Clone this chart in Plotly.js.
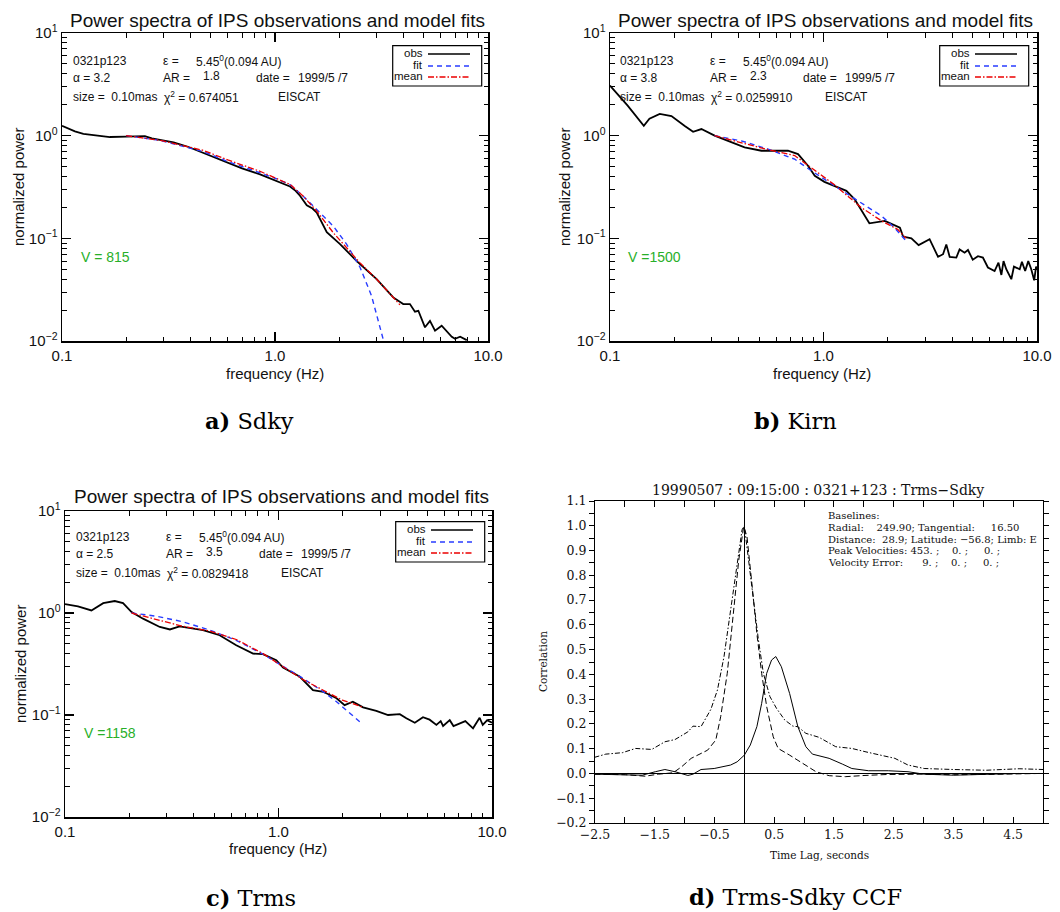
<!DOCTYPE html>
<html>
<head>
<meta charset="utf-8">
<script src="https://cdn.plot.ly/plotly-3.0.1.min.js"></script>
<style>html,body{margin:0;padding:0;background:#fff}#chart{width:1060px;height:912px}</style>
</head>
<body>
<div id="chart"></div>
<script>
// ---------------- DATA ----------------
// Panel a) Sdky
const aObsF = [0.1,0.115,0.126,0.145,0.168,0.2,0.245,0.264,0.29,0.334,0.39,0.445,0.52,0.593,0.7,0.851,1.0,1.176,1.25,1.31,1.41,1.5,1.57,1.75,2.02,2.42,3.0,3.11,3.59,4.0,4.3,4.54,4.71,5.06,5.34,5.64,6.06,6.76,7.0,7.4,7.95];
const aObsP = [1.25,1.1,1.04,1.0,0.97,0.98,0.99,0.94,0.91,0.86,0.78,0.70,0.61,0.55,0.48,0.42,0.37,0.32,0.29,0.26,0.21,0.195,0.178,0.115,0.088,0.060,0.040,0.037,0.0266,0.0229,0.0229,0.0193,0.0197,0.0136,0.0157,0.0126,0.0141,0.011,0.0105,0.011,0.0102];
const aFitF = [0.2,0.288,0.46,0.6,0.85,1.0,1.176,1.35,1.57,1.88,2.17,2.51,2.84,3.22];
const aFitP = [1.0,0.90,0.70,0.56,0.435,0.385,0.334,0.26,0.191,0.131,0.0875,0.052,0.0275,0.0104];
const aMeanF = [0.2,0.29,0.46,0.6,0.85,1.0,1.176,1.35,1.57,1.88,2.17,2.5,3.0,3.59,3.86];
const aMeanP = [1.0,0.9,0.72,0.58,0.45,0.39,0.335,0.26,0.184,0.113,0.081,0.058,0.040,0.0266,0.0225];

// Panel b) Kirn
const bObsF = [0.1,0.121,0.144,0.153,0.171,0.194,0.224,0.245,0.268,0.309,0.427,0.512,0.682,0.76,0.846,0.91,1.01,1.28,1.40,1.64,1.94,2.28,2.36,2.58,2.79,3.14,3.44,3.63,3.76,3.90,4.19,4.34,4.58,4.75,5.0,5.29,5.58,5.89,6.33,6.6,6.81,6.97,7.18,7.58,7.8,8.3,8.5,8.8,9.1,9.4,9.7,9.9,10.0];
const bObsP = [3.08,1.96,1.25,1.46,1.63,1.55,1.24,1.09,1.16,1.0,0.77,0.713,0.713,0.662,0.509,0.406,0.355,0.29,0.24,0.14,0.148,0.127,0.104,0.10,0.086,0.098,0.066,0.070,0.087,0.066,0.065,0.078,0.0725,0.077,0.062,0.067,0.065,0.052,0.048,0.058,0.044,0.060,0.050,0.040,0.053,0.050,0.059,0.048,0.060,0.050,0.039,0.053,0.050];
const bFitF = [0.309,0.412,0.55,0.733,0.877,1.13,1.50,1.87,2.15,2.44];
const bFitP = [1.0,0.89,0.74,0.59,0.455,0.325,0.223,0.165,0.127,0.094];
const bMeanF = [0.309,0.412,0.55,0.733,0.877,1.13,1.50,1.87,2.23,2.44];
const bMeanP = [1.0,0.86,0.73,0.64,0.49,0.33,0.20,0.148,0.122,0.10];

// Panel c) Trms
const cObsF = [0.1,0.115,0.133,0.151,0.171,0.187,0.205,0.232,0.278,0.31,0.344,0.443,0.53,0.634,0.76,0.846,0.977,1.05,1.26,1.45,1.62,1.87,2.04,2.23,2.49,2.87,3.26,3.70,3.97,4.35,4.75,5.1,5.49,5.75,5.9,6.34,6.6,7.1,7.5,8.15,8.75,9.05,9.5,10.0];
const cObsP = [1.22,1.16,1.06,1.25,1.31,1.25,1.02,0.88,0.73,0.69,0.74,0.68,0.605,0.483,0.40,0.395,0.345,0.292,0.237,0.175,0.169,0.146,0.125,0.135,0.119,0.110,0.10,0.102,0.093,0.084,0.095,0.090,0.080,0.087,0.078,0.089,0.078,0.083,0.087,0.074,0.094,0.080,0.089,0.084];
const cFitF = [0.205,0.268,0.357,0.476,0.634,0.846,1.05,1.30,1.62,1.87,2.16,2.45];
const cFitP = [1.0,0.93,0.82,0.68,0.54,0.395,0.30,0.229,0.169,0.135,0.104,0.083];
const cMeanF = [0.205,0.268,0.357,0.476,0.634,0.846,1.05,1.30,1.62,1.99,2.49];
const cMeanP = [1.0,0.86,0.74,0.667,0.55,0.40,0.30,0.223,0.175,0.14,0.119];

// Panel d) Trms-Sdky CCF
const dSolidLag = [-2.51,-1.71,-1.49,-1.33,-1.16,-0.945,-0.86,-0.725,-0.505,-0.34,-0.23,-0.12,0,0.1,0.21,0.29,0.374,0.456,0.527,0.62,0.758,0.896,1.03,1.14,1.42,1.64,1.80,2.08,2.41,2.74,3.01,3.5,4.05,4.6];
const dSolidCor = [-0.003,-0.007,0.007,0.016,0.007,-0.008,-0.003,0.016,0.02,0.03,0.034,0.047,0.074,0.115,0.189,0.283,0.404,0.458,0.472,0.431,0.323,0.189,0.108,0.078,0.061,0.038,0.02,0.011,0.011,0.007,-0.003,-0.007,-0.003,0.0];
const dDashLag = [-2.51,-1.99,-1.66,-1.44,-1.19,-1.05,-0.89,-0.615,-0.478,-0.396,-0.286,-0.176,-0.093,-0.011,0.044,0.126,0.209,0.29,0.374,0.484,0.566,0.758,0.978,1.2,1.42,1.69,2.02,2.41,2.96,3.5,4.05,4.6,4.95];
const dDashCor = [-0.003,-0.005,-0.011,-0.003,0.003,0.027,0.061,0.094,0.135,0.229,0.404,0.66,0.862,0.997,0.957,0.768,0.566,0.404,0.27,0.148,0.101,0.074,0.04,0.007,-0.009,-0.013,-0.008,-0.004,-0.003,-0.005,-0.004,-0.003,0.0];
const dDotLag = [-2.51,-2.32,-2.04,-1.82,-1.55,-1.33,-1.16,-0.945,-0.86,-0.725,-0.56,-0.45,-0.34,-0.23,-0.12,-0.038,0,0.071,0.154,0.236,0.319,0.429,0.538,0.676,0.813,0.896,1.03,1.25,1.53,1.80,2.02,2.30,2.52,2.74,3.01,3.5,4.05,4.6,5.0];
const dDotCor = [0.065,0.078,0.084,0.101,0.097,0.128,0.137,0.168,0.191,0.189,0.259,0.337,0.472,0.66,0.849,0.984,1.0,0.863,0.70,0.539,0.404,0.31,0.263,0.216,0.191,0.189,0.162,0.146,0.108,0.101,0.088,0.074,0.061,0.034,0.02,0.016,0.013,0.019,0.016];

// tick labels
const freqTickVals = [0.1,1,10];
const freqTickText = ['0.1','1.0','10.0'];
const powTickVals = [0.01,0.1,1,10];
const powTickText = ['10<sup>−2</sup>','10<sup>−1</sup>','10<sup>0</sup>','10<sup>1</sup>'];
const freqMinor = [0.2,0.3,0.4,0.5,0.6,0.7,0.8,0.9,2,3,4,5,6,7,8,9];
const powMinor = [0.02,0.03,0.04,0.05,0.06,0.07,0.08,0.09,0.2,0.3,0.4,0.5,0.6,0.7,0.8,0.9,2,3,4,5,6,7,8,9];
const lagTickVals = [-2.5,-1.5,-0.5,0.5,1.5,2.5,3.5,4.5];
const lagTickText = ['−2.5','−1.5','−0.5','0.5','1.5','2.5','3.5','4.5'];

// panel annotations text
const spectraTitle = 'Power spectra of IPS observations and model fits';
const infoA = {alpha:'3.2', ar:'1.8', chi:'0.674051', v:'V = 815'};
const infoB = {alpha:'3.8', ar:'2.3', chi:'0.0259910', v:'V =1500'};
const infoC = {alpha:'2.5', ar:'3.5', chi:'0.0829418', v:'V =1158'};
const ccfTitle = '19990507 : 09:15:00 : 0321+123 : Trms−Sdky';
const ccfInfo = [
  'Baselines:',
  'Radial:\u00a0\u00a0\u00a0 249.90; Tangential:\u00a0\u00a0\u00a0\u00a0 16.50',
  'Distance:\u00a0 28.9; Latitude: −56.8; Limb: E',
  'Peak Velocities: 453. ;\u00a0\u00a0\u00a0 0. ;\u00a0\u00a0\u00a0\u00a0 0. ;',
  'Velocity Error:\u00a0\u00a0\u00a0\u00a0\u00a0 9. ;\u00a0\u00a0\u00a0 0. ;\u00a0\u00a0\u00a0\u00a0 0. ;'
];
const captions = ['<b>a)</b> Sdky','<b>b)</b> Kirn','<b>c)</b> Trms','<b>d)</b> Trms-Sdky CCF'];

// ---------------- LAYOUT HELPERS ----------------
const W = 1060, H = 912;
const X = p => p / W;
const Y = p => 1 - p / H;
const SANS = 'Liberation Sans, Arial, Helvetica, sans-serif';
const SERIF = 'DejaVu Serif, serif';
const BLUE = 'rgb(40,60,255)';
const RED = 'rgb(235,0,0)';
const GREEN = 'rgb(40,175,40)';

function logX(dom, anchor){
  return {domain:dom, anchor:anchor, type:'log', range:[-1,1], tickmode:'array', tickvals:freqTickVals, ticktext:freqTickText,
    ticks:'inside', ticklen:9, tickwidth:1.3, tickcolor:'#000', mirror:'allticks', showline:true, linecolor:'#000', linewidth:1.5,
    showgrid:false, zeroline:false, tickfont:{family:SANS,size:15,color:'#111'},
    minor:{tickmode:'array', tickvals:freqMinor, ticks:'inside', ticklen:4.5, tickwidth:1, tickcolor:'#000', showgrid:false}};
}
function logY(dom, anchor){
  return {domain:dom, anchor:anchor, type:'log', range:[-2,1], tickmode:'array', tickvals:powTickVals, ticktext:powTickText,
    ticks:'inside', ticklen:9, tickwidth:1.3, tickcolor:'#000', mirror:'allticks', showline:true, linecolor:'#000', linewidth:1.5,
    showgrid:false, zeroline:false, tickfont:{family:SANS,size:15,color:'#111'},
    minor:{tickmode:'array', tickvals:powMinor, ticks:'inside', ticklen:4.5, tickwidth:1, tickcolor:'#000', showgrid:false}};
}

const traces = [];
function spectra(xa, ya, obsF, obsP, fitF, fitP, meanF, meanP){
  traces.push({x:obsF, y:obsP, xaxis:xa, yaxis:ya, mode:'lines', line:{color:'#000', width:1.8}, showlegend:false, hoverinfo:'skip'});
  traces.push({x:fitF, y:fitP, xaxis:xa, yaxis:ya, mode:'lines', line:{color:BLUE, width:1.4, dash:'5px,4px'}, showlegend:false, hoverinfo:'skip'});
  traces.push({x:meanF, y:meanP, xaxis:xa, yaxis:ya, mode:'lines', line:{color:RED, width:1.3, dash:'6px,2px,1.5px,2px'}, showlegend:false, hoverinfo:'skip'});
}
spectra('x','y', aObsF,aObsP,aFitF,aFitP,aMeanF,aMeanP);
spectra('x2','y2', bObsF,bObsP,bFitF,bFitP,bMeanF,bMeanP);
spectra('x3','y3', cObsF,cObsP,cFitF,cFitP,cMeanF,cMeanP);
traces.push({x:dSolidLag, y:dSolidCor, xaxis:'x4', yaxis:'y4', mode:'lines', line:{color:'#000', width:1}, showlegend:false, hoverinfo:'skip'});
traces.push({x:dDashLag, y:dDashCor, xaxis:'x4', yaxis:'y4', mode:'lines', line:{color:'#000', width:1, dash:'6px,3px'}, showlegend:false, hoverinfo:'skip'});
traces.push({x:dDotLag, y:dDotCor, xaxis:'x4', yaxis:'y4', mode:'lines', line:{color:'#000', width:1, dash:'5px,2px,1.5px,2px'}, showlegend:false, hoverinfo:'skip'});

const ann = [];
const shapes = [];
function txt(text, x, y, opt){
  opt = opt || {};
  ann.push(Object.assign({text:text, x:X(x), y:Y(y), xref:'paper', yref:'paper', showarrow:false,
    xanchor:opt.xa||'left', yanchor:opt.ya||'middle', font:{family:opt.family||SANS, size:opt.size||12, color:opt.color||'#111'}},
    opt.textangle!==undefined?{textangle:opt.textangle}:{}));
}
function spectraDecor(dx, dy, info, plotCx, xTitleY, yTitleX, plotCy, titleY, titleCx){
  txt(spectraTitle, titleCx, titleY, {xa:'center', size:19});
  txt('0321p123', 71+dx, 61+dy);
  txt('ε =', 161+dx, 61+dy);
  txt('5.45<sup>0</sup>(0.094 AU)', 194+dx, 61+dy);
  txt('α = ' + info.alpha, 71+dx, 78+dy);
  txt('AR =', 161+dx, 78+dy);
  txt(info.ar, 201+dx, 76+dy);
  txt('date =', 254+dx, 78+dy);
  txt('1999/5 /7', 296+dx, 78+dy);
  txt('size = \u00a00.10mas', 71+dx, 97+dy);
  txt('χ<sup>2</sup> = ' + info.chi, 162+dx, 97+dy);
  txt('EISCAT', 276+dx, 97+dy);
  txt(info.v, 79+dx, 257+dy, {color:GREEN, size:14});
  txt('frequency (Hz)', plotCx, xTitleY, {xa:'center', size:15});
  txt('normalized power', yTitleX, plotCy, {xa:'center', size:15, textangle:-90});
  // legend box
  const bx0 = 392.7+dx, bx1 = 481.7+dx, by0 = 45.7+dy, by1 = 86+dy;
  shapes.push({type:'rect', xref:'paper', yref:'paper', x0:X(bx0), x1:X(bx1), y0:Y(by1), y1:Y(by0), line:{color:'#000', width:1.2}});
  const rows = [['obs',53,{color:'#000',width:1.5}],['fit',65,{color:BLUE,width:1.5,dash:'5px,4px'}],['mean',76,{color:RED,width:1.3,dash:'6px,2px,1.5px,2px'}]];
  rows.forEach(r=>{
    txt(r[0], 425+dx, r[1]+dy, {xa:'right', size:11.5});
    shapes.push({type:'line', xref:'paper', yref:'paper', x0:X(428+dx), x1:X(470+dx), y0:Y(r[1]+dy+1), y1:Y(r[1]+dy+1), line:r[2]});
  });
}
spectraDecor(0, 0, infoA, 275, 373, 18, 187, 21, 277);
spectraDecor(547, 0, infoB, 822, 373, 564, 187, 21, 825);
spectraDecor(3, 476, infoC, 278, 848, 20, 664, 497, 281);

// panel d decorations
txt(ccfTitle, 818, 490, {xa:'center', family:SERIF, size:14});
ccfInfo.forEach((s,i)=> txt(s, 826, 515.7 + i*11.7, {family:SERIF, size:10}));
txt('Time Lag, seconds', 819, 855, {xa:'center', family:SERIF, size:10.5});
txt('Correlation', 543, 662, {xa:'center', family:SERIF, size:10.5, textangle:-90});

// captions
const CAPF = 'DejaVu Serif, serif';
txt(captions[0], 249, 421, {xa:'center', family:CAPF, size:22.5, color:'#000'});
txt(captions[1], 795, 421, {xa:'center', family:CAPF, size:22.5, color:'#000'});
txt(captions[2], 251, 898, {xa:'center', family:CAPF, size:22.5, color:'#000'});
txt(captions[3], 795, 897, {xa:'center', family:CAPF, size:22.5, color:'#000'});

const layout = {
  width:W, height:H, margin:{l:0,r:0,t:0,b:0}, paper_bgcolor:'#fff', plot_bgcolor:'rgba(0,0,0,0)', showlegend:false,
  xaxis: logX([X(62),X(488)], 'y'),
  yaxis: logY([Y(341),Y(33)], 'x'),
  xaxis2: logX([X(610),X(1037)], 'y2'),
  yaxis2: logY([Y(341),Y(33)], 'x2'),
  xaxis3: logX([X(65),X(492)], 'y3'),
  yaxis3: logY([Y(817),Y(511)], 'x3'),
  xaxis4: {domain:[X(595),X(1043)], anchor:'y4', range:[-2.5,5.0], tickmode:'array', tickvals:lagTickVals, ticktext:lagTickText,
    ticks:'inside', ticklen:6, tickwidth:1, tickcolor:'#000', mirror:'allticks', showline:true, linecolor:'#000', linewidth:1,
    showgrid:false, zeroline:true, zerolinecolor:'#000', zerolinewidth:1, tickfont:{family:SERIF,size:12.5,color:'#111'},
    minor:{dtick:0.5, tick0:-2.5, ticks:'inside', ticklen:6, tickwidth:1, tickcolor:'#000', showgrid:false}},
  yaxis4: {domain:[Y(823),Y(501)], anchor:'x4', range:[-0.2,1.1], tick0:0, dtick:0.1, tickformat:'.1f',
    ticks:'outside', ticklen:5, tickwidth:1, tickcolor:'#000', mirror:'allticks', showline:true, linecolor:'#000', linewidth:1,
    showgrid:false, zeroline:true, zerolinecolor:'#000', zerolinewidth:1, tickfont:{family:SERIF,size:12.5,color:'#111'},
    minor:{dtick:0.05, tick0:0, ticks:'outside', ticklen:5, tickwidth:1, tickcolor:'#000', showgrid:false}},
  annotations: ann,
  shapes: shapes
};
Plotly.newPlot('chart', traces, layout, {staticPlot:true, displayModeBar:false});
</script>
</body>
</html>
